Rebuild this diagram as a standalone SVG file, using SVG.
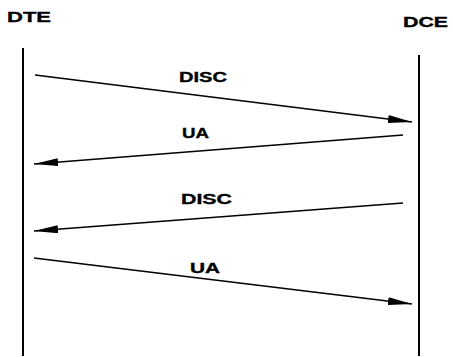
<svg xmlns="http://www.w3.org/2000/svg" width="453" height="357" viewBox="0 0 453 357">
  <style>
    .lifeline { stroke: #000; stroke-width: 2; fill: none; }
    .msg { stroke: #000; stroke-width: 1.6; fill: none; marker-end: url(#head); }
    .title, .label { font-family: "Liberation Sans", Arial, sans-serif; font-weight: bold; font-size: 14.5px; fill: #000; stroke: #000; stroke-width: 0.35; }
  </style>
  <defs>
    <marker id="head" viewBox="0 0 24 8" refX="24" refY="4" markerWidth="24" markerHeight="8" markerUnits="userSpaceOnUse" orient="auto">
      <path d="M0,0 L24,4 L0,8 Z" fill="#000"/>
    </marker>
  </defs>
  <rect width="453" height="357" fill="#fff"/>

  <g id="dte">
    <text class="title" x="7" y="22" textLength="44" lengthAdjust="spacingAndGlyphs">DTE</text>
    <line class="lifeline" x1="23" y1="48" x2="23" y2="356"/>
  </g>
  <g id="dce">
    <text class="title" x="403" y="27" textLength="45" lengthAdjust="spacingAndGlyphs">DCE</text>
    <line class="lifeline" x1="419" y1="55" x2="419" y2="356"/>
  </g>

  <g id="connectors">
    <line class="msg" x1="35" y1="75" x2="412" y2="122"/>
    <line class="msg" x1="403" y1="135" x2="34" y2="164"/>
    <line class="msg" x1="403" y1="203" x2="34" y2="231"/>
    <line class="msg" x1="34" y1="258" x2="412" y2="304"/>
  </g>

  <g id="labels">
    <text class="label" x="179" y="82" textLength="48" lengthAdjust="spacingAndGlyphs">DISC</text>
    <text class="label" x="182" y="138" textLength="27" lengthAdjust="spacingAndGlyphs">UA</text>
    <text class="label" x="181" y="204" textLength="51" lengthAdjust="spacingAndGlyphs">DISC</text>
    <text class="label" x="190" y="273" textLength="30" lengthAdjust="spacingAndGlyphs">UA</text>
  </g>
</svg>
